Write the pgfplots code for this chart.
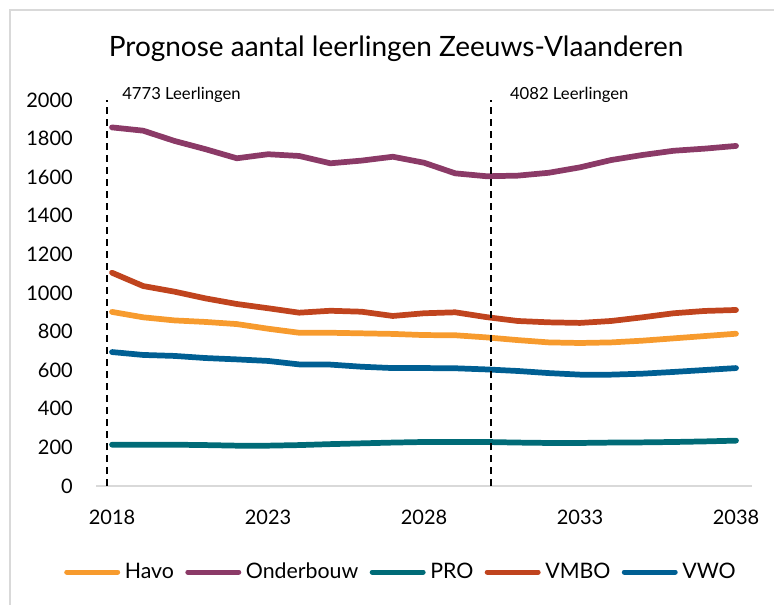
\documentclass[border=0pt]{standalone}
\usepackage{pgfplots}
\pgfplotsset{compat=1.18}
\usepackage{pgfplotstable}
\usepackage{fontspec}
\setmainfont{Lato}
\definecolor{havo}{HTML}{F79B2E}
\definecolor{onder}{HTML}{8B3A67}
\definecolor{pro}{HTML}{006B77}
\definecolor{vmbo}{HTML}{C0441E}
\definecolor{vwo}{HTML}{005F93}
\definecolor{frame}{HTML}{D9D9D9}
\pgfplotstableread{
year havo onder pro vmbo vwo
2018 902 1858 214 1105 694
2019 874 1841 214 1036 679
2020 858 1788 214 1007 674
2021 850 1745 212 972 663
2022 839 1698 209 943 656
2023 815 1719 209 921 648
2024 794 1710 212 898 630
2025 794 1672 217 908 629
2026 791 1686 221 903 618
2027 788 1706 225 881 611
2028 782 1675 228 895 611
2029 781 1620 228 900 610
2030 770 1605 228 875 604
2031 756 1608 225 855 596
2032 744 1623 223 848 585
2033 741 1651 223 845 577
2034 744 1689 225 855 577
2035 753 1715 226 874 582
2036 765 1737 228 895 591
2037 777 1748 231 907 601
2038 789 1762 235 912 611
}\data
\begin{document}
\begin{tikzpicture}
\useasboundingbox (0,0) rectangle (580.5pt,-453.75pt);
\draw[frame, line width=1.1pt] (7.5pt,-7.5pt) rectangle (600pt,-470pt);
\node[anchor=base, font=\fontsize{21}{25}\selectfont] at (297.1pt,-42.75pt) {Prognose aantal leerlingen Zeeuws-Vlaanderen};
\begin{axis}[
  at={(72.3pt,-364.5pt)}, anchor=south west,
  scale only axis, width=491.4pt, height=289.5pt,
  xmin=2017.5, xmax=2038.5, ymin=0, ymax=2000,
  xtick={2018,2023,2028,2033,2038},
  ytick={0,200,...,2000},
  axis y line*=left,
  axis x line*=bottom,
  y axis line style={draw=none},
  x axis line style={frame, line width=0.9pt},
  major tick length=0pt,
  clip=false,
  /pgf/number format/.cd, set thousands separator={}, assume math mode=true,
  /pgfplots/.cd,
  ticklabel style={font=\fontsize{15}{18}\selectfont},
  xticklabel style={anchor=north, inner sep=0pt, yshift=-18pt},
  yticklabel style={anchor=east, inner sep=0pt, xshift=-17.5pt},
  legend columns=5,
  legend style={at={(0.4634,-0.2228)}, anchor=center, draw=none, fill=none,
    font=\fontsize{16}{19}\selectfont, inner sep=0pt,
    nodes={inner sep=0pt, anchor=west},
    /tikz/every odd column/.append style={column sep=3.5pt},
    /tikz/every even column/.append style={column sep=8.5pt}},
  legend image code/.code={\draw[#1, line width=3.75pt, line cap=round] (1.9pt,0pt) -- (40.1pt,0pt);},
  every axis plot/.append style={line width=4.3pt, line join=round, line cap=round, no marks},
]
\addplot[havo] table[x=year, y=havo] {\data};
\addlegendentry{Havo}
\addplot[onder] table[x=year, y=onder] {\data};
\addlegendentry{Onderbouw}
\addplot[pro] table[x=year, y=pro] {\data};
\addlegendentry{PRO}
\addplot[vmbo] table[x=year, y=vmbo] {\data};
\addlegendentry{VMBO}
\addplot[vwo] table[x=year, y=vwo] {\data};
\addlegendentry{VWO}
\draw[black, line width=1.5pt, dash pattern=on 5.25pt off 3.75pt] (axis cs:2017.84,0) -- (axis cs:2017.84,2000);
\draw[black, line width=1.5pt, dash pattern=on 5.25pt off 3.75pt] (axis cs:2030.15,0) -- (axis cs:2030.15,2000);
\node[anchor=base west, inner sep=0pt, font=\fontsize{12.5}{15}\selectfont] at (axis cs:2018.32,2005) {4773 Leerlingen};
\node[anchor=base west, inner sep=0pt, font=\fontsize{12.5}{15}\selectfont] at (axis cs:2030.75,2005) {4082 Leerlingen};
\end{axis}
\end{tikzpicture}
\end{document}
